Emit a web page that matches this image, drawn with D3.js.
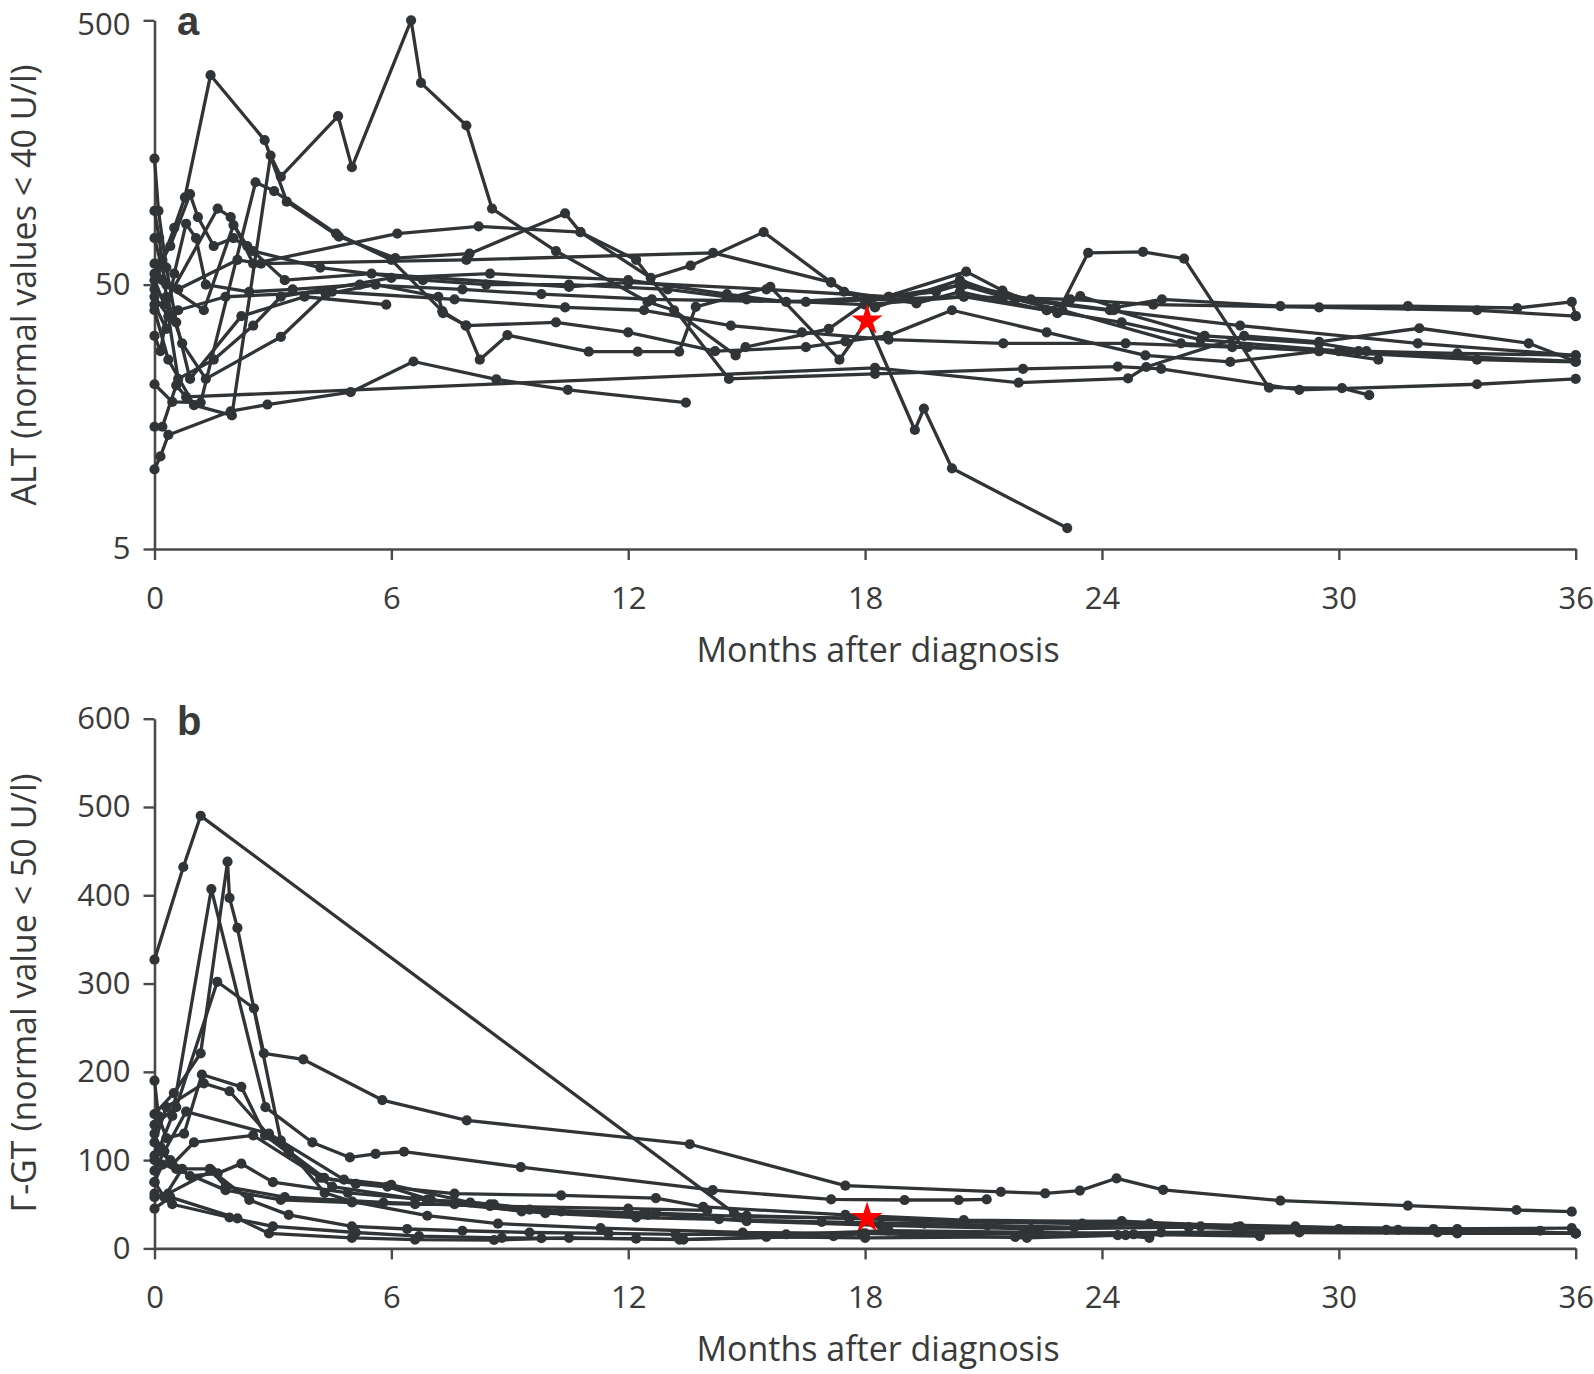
<!DOCTYPE html>
<html><head><meta charset="utf-8">
<script src="https://cdn.jsdelivr.net/npm/d3@7/dist/d3.min.js"></script>
<style>
body{margin:0;background:#fff}
text{font-family:"Open Sans","Noto Sans",sans-serif;fill:#3a3a3a}
</style></head>
<body><svg id="c" width="1594" height="1374"></svg>
<script>
// ---------- DATA ----------
const monthTicks = [0, 6, 12, 18, 24, 30, 36];
const altTicks = [5, 50, 500];
const ggtTicks = [0, 100, 200, 300, 400, 500, 600];
const xTitle = "Months after diagnosis";
const altTitle = "ALT (normal values < 40 U/l)";
const ggtTitle = "Γ-GT (normal value < 50 U/l)";

// Panel a: ALT per patient, [month, U/l]
const alt01 = [[0,40],[0.35,26],[1.0,17.5],[1.96,16],[2.94,154],[3.2,128],[4.65,217],[5.0,139],[6.5,500],[6.75,290],[7.9,200],[8.55,97],[10.17,67],[12.49,43],[13.16,40],[14.72,27],[14.97,29],[17.08,34],[18.0,42.5],[20.56,56],[21.48,47.5],[22.87,39],[23.65,66],[25.04,66.5],[26.08,62.7],[28.23,20.4],[30.08,20.3],[30.77,19.1]];
const alt02 = [[0,48],[0.2,62],[0.5,82],[0.77,107],[1.42,310],[2.79,176],[3.35,103],[4.67,76],[6.1,63],[7.98,65.5],[10.4,93],[10.79,79],[12.57,53],[13.58,59],[15.43,79],[17.14,51],[17.47,47],[19.3,42.5],[20.4,47],[22.6,40],[23.45,45.3],[24.35,41],[25.52,44],[28.52,41.5],[31.75,41.5],[34.52,40.8],[35.9,43],[36,38]];
const alt03 = [[0,21],[0.45,18],[1.17,17.9],[2.56,122],[3.03,113],[4.6,78],[6.0,62],[7.29,39.7],[7.88,35],[8.24,26],[8.94,32.2],[11.0,27.9],[12.24,27.9],[13.29,27.9],[13.71,41.2],[15.6,49],[17.35,26],[18.05,36.6],[19.26,14.1],[19.49,17],[20.2,10.1],[23.12,6]];
const alt04 = [[0,10],[0.15,11.2],[0.35,13.5],[1.93,16.6],[2.86,17.6],[4.97,19.6],[6.56,25.6],[8.66,21.9],[10.47,20],[13.46,17.9]];
const alt05 = [[0,14.5],[0.2,14.5],[0.55,20.8],[0.8,18.8],[18.25,24.2],[21.89,21.3],[24.66,22.1],[25.12,24.4],[27.6,32],[29.5,30.4],[32.04,34.2],[34.81,30],[36,25.6]];
const alt06 = [[0,52],[0.25,42],[1.6,97],[1.93,90],[2.5,60],[6.15,78],[8.21,83],[10.79,79],[12.2,62],[14.55,22],[18.25,23],[22.0,24],[24.4,24.5],[25.5,24],[29.0,20],[33.5,21],[36,22]];
const alt07 = [[0,95],[0.12,75],[0.3,45],[0.7,30],[1.3,22],[3.2,31.7],[4.34,46],[5.6,50],[7.19,45],[7.31,39],[7.9,35],[10.17,36],[12.0,33],[14.2,28],[16.5,29],[17.5,30.5],[18.57,32],[20.2,40],[22.6,33],[25.1,27],[27.25,25.5],[29.5,28],[33.5,26],[36,25.5]];
const alt08 = [[0,60],[0.2,52],[0.6,48],[2.1,62],[2.7,60],[7.9,62],[14.15,66],[17.14,51],[18.25,41],[20.4,52],[21.8,44],[24.2,40],[27.5,35],[32,30],[36,27]];
const alt09 = [[0,150],[0.1,95],[0.3,58],[0.55,36],[0.9,22],[2.2,38],[3.8,45],[5.87,42]];
const alt10 = [[0,75],[0.3,50],[1.25,40],[2.0,84],[2.35,70],[3.3,52],[5.5,55],[10.5,49],[12.0,51],[15.5,48],[18.6,45],[20.5,50],[22.2,44],[24.3,40],[26.6,32],[29.5,30],[30.7,28]];
const alt11 = [[0,55],[0.4,70],[0.9,110],[1.1,90],[1.5,70],[2.0,75],[2.5,67],[4.2,58],[6.8,52],[8.4,50],[10.5,50],[13.0,48],[15.0,44],[18.0,42],[20.5,45],[22.6,40],[24.5,36],[26.5,31],[30,28],[36,25.6]];
const alt12 = [[0,45],[0.35,38],[0.6,22],[1.5,26],[2.5,35],[3.2,45],[6.0,53],[8.5,55],[12.0,52],[14.5,46],[16.0,43],[18.6,45],[19.8,47],[20.4,50],[21.5,45],[23.0,40],[26,30],[27.7,29],[29.5,28],[31,26]];
const alt13 = [[0,42],[0.3,34],[0.6,40],[1.8,45],[4.5,47],[7.6,44],[10.4,41],[12.4,40],[14.6,35],[16.4,33],[18.6,31],[21.5,30],[24.6,30],[27.3,29],[30.5,28],[33,27.5],[36,27]];
const alt14 = [[0,32],[0.15,28],[0.5,55],[0.8,85],[1.05,75],[1.3,50],[2.4,47],[3.5,48],[5.2,50],[7.8,48],[9.8,46],[12.6,44],[16.5,43],[20.5,45],[23.2,44],[25.3,42],[29.5,41],[33.5,40],[36,38]];
const altSeries = [alt01,alt02,alt03,alt04,alt05,alt06,alt07,alt08,alt09,alt10,alt11,alt12,alt13,alt14];
const altStar = [18.05, 36.6];

// Panel b: Γ-GT per patient, [month, U/l]
const ggt01 = [[0,327],[0.73,432],[1.17,490],[14.68,40],[15.0,37],[17.6,34],[20.5,30],[23.5,28],[26.5,25],[30,22],[36,17]];
const ggt02 = [[0,152],[0.49,176],[1.17,221],[1.85,438],[1.9,397],[2.1,363],[3.2,122],[4.31,63],[5.01,53],[6.91,37],[8.7,28],[11.3,23],[14.9,18],[17.9,17],[22,17],[25.5,18],[29,19],[32.5,18],[36,17]];
const ggt03 = [[0,100],[0.45,150],[1.44,407],[2.81,160],[4.0,120],[4.95,103],[5.6,107],[6.32,109.5],[9.28,92],[14.14,66],[17.14,55.5],[19.0,54.8],[20.37,54.8],[21.08,55.5]];
const ggt04 = [[0,140],[0.55,160],[1.59,302],[2.52,272],[2.77,221],[3.77,214],[5.77,168],[7.91,145],[13.56,118],[17.5,71],[21.44,64],[22.56,62.4],[23.44,65.5],[24.37,79.4],[25.55,66.2],[28.52,54.1],[31.75,48.4],[34.5,43.5],[35.9,41.6]];
const ggt05 = [[0,190],[0.1,150],[0.3,125],[0.75,130],[1.2,197],[2.2,183],[2.8,128],[3.4,108],[4.5,70],[6.6,56],[8.5,50],[10.3,42],[12.7,40],[15,36],[18.05,34],[20.5,30],[24.5,31],[27.5,25],[33,22],[36,17]];
const ggt06 = [[0,120],[0.3,160],[1.25,187],[1.9,178],[2.9,128],[3.4,110],[4.3,80],[5.1,73],[7.6,62],[10.3,60],[12.7,57],[13.9,47],[17.5,38],[20.5,32],[24.5,30],[27.4,24],[31.5,21]];
const ggt07 = [[0,88],[0.25,110],[0.8,155],[2.9,130],[4.8,78],[6.0,72],[8.0,52],[9.5,44],[12.4,40],[15.0,31],[18.4,26],[22.2,22],[26.2,24],[27.6,22],[32.4,22],[35.9,23]];
const ggt08 = [[0,75],[0.2,95],[0.55,90],[1.8,66],[3.2,55],[5.0,52],[6.6,50],[7.6,50],[9.9,40],[12.2,35],[14.3,33],[16.9,30],[19.5,28],[21.1,26],[23.3,24],[25.2,28],[28.9,25],[31.2,21],[35.1,20]];
const ggt09 = [[0,58],[0.35,62],[1.45,88],[2.4,55],[3.4,38],[5.0,25],[6.4,22],[7.8,20],[9.5,18],[11.5,17],[13.2,16],[16,16],[18.6,20],[22.4,18],[24.8,16],[28,14]];
const ggt10 = [[0,62],[0.45,50],[1.9,35],[3.0,25],[5.1,18],[6.7,14],[8.8,12],[9.8,11.5],[12.2,11],[13.4,10],[15.5,13],[18.0,12],[21.8,13],[24.4,15],[25.2,12]];
const ggt11 = [[0,45],[0.4,58],[2.1,34],[2.9,17],[5.0,12],[6.6,10],[8.6,9.5],[10.5,12],[13.3,10],[17.2,14],[18,17],[22.1,12],[24.6,15],[29,18],[33,17],[36,17]];
const ggt12 = [[0,105],[0.15,115],[0.45,95],[1.0,120],[2.5,128],[4.2,80],[5.9,70],[7.0,55],[9.3,42],[12.5,38]];
const ggt13 = [[0,75],[0.25,58],[0.7,90],[1.4,90],[1.8,70],[3.3,58],[5.8,52],[8.5,48],[12,45],[14,43]];
const ggt14 = [[0,130],[0.1,110],[0.4,100],[0.9,82],[1.6,85],[2.2,96],[3.0,75],[4.9,63],[6.9,55],[8.6,50]];
const ggtSeries = [ggt01,ggt02,ggt03,ggt04,ggt05,ggt06,ggt07,ggt08,ggt09,ggt10,ggt11,ggt12,ggt13,ggt14];
const ggtStar = [18.05, 34.5];

// ---------- DRAW ----------
const svg = d3.select("#c");
const ink = "#313436";
const axisInk = "#4a4a4a";
const x0 = 154.5, x1 = 1575.7;
const tickFont = 31, titleFont = 34;

function panel(opts){
  const x = d3.scaleLinear().domain([0,36]).range([x0,x1]);
  const y = opts.y;
  const g = svg.append("g");
  const xa = g.append("g").attr("transform",`translate(0,${opts.yBase})`)
    .call(d3.axisBottom(x).tickValues(monthTicks).tickSize(11).tickSizeOuter(0).tickFormat(d3.format("d")));
  xa.select(".domain").attr("stroke",axisInk).attr("stroke-width",2.6);
  xa.selectAll(".tick line").attr("stroke",axisInk).attr("stroke-width",2.4);
  xa.selectAll(".tick text").attr("font-size",tickFont).attr("dy","1.48em").style("font-family",'"Open Sans",sans-serif').attr("fill","#3a3a3a");
  const ya = g.append("g").attr("transform",`translate(${x0},0)`)
    .call(d3.axisLeft(y).tickValues(opts.ticks).tickSize(11).tickSizeOuter(0).tickFormat(d3.format("d")));
  ya.select(".domain").attr("stroke",axisInk).attr("stroke-width",2.6);
  ya.selectAll(".tick line").attr("stroke",axisInk).attr("stroke-width",2.4);
  ya.selectAll(".tick text").attr("font-size",tickFont).attr("x",-24)
    .attr("dy",d=> (y(d) < 30 ? "0.46em" : "0.32em"))
    .style("font-family",'"Open Sans",sans-serif').attr("fill","#3a3a3a");
  g.append("text").attr("x",878).attr("y",opts.yBase+113).attr("text-anchor","middle").attr("font-size",titleFont).text(xTitle);
  g.append("text").attr("transform",`translate(36,${opts.yMid}) rotate(-90)`).attr("text-anchor","middle").attr("font-size",titleFont).text(opts.title);
  g.append("text").attr("x",177).attr("y",opts.labelY).attr("font-size",40).attr("font-weight","bold")
    .style("font-family","'Liberation Sans','DejaVu Sans',sans-serif").attr("fill","#333").text(opts.letter);
  const line = d3.line().x(d=>x(d[0])).y(d=>y(d[1]));
  const lg = g.append("g");
  opts.series.forEach(s=>{
    lg.append("path").datum(s).attr("d",line).attr("fill","none").attr("stroke",ink).attr("stroke-width",3.3).attr("stroke-linejoin","round");
    lg.selectAll(null).data(s).enter().append("circle").attr("cx",d=>x(d[0])).attr("cy",d=>y(d[1])).attr("r",5.1).attr("fill",ink);
  });
  const star = d3.symbol().type(d3.symbolStar).size(300);
  g.append("path").attr("d",star).attr("transform",`translate(${x(opts.star[0])},${y(opts.star[1])})`).attr("fill","#ff0000");
}

panel({
  y: d3.scaleLog().domain([5,500]).range([549,20.3]),
  ticks: altTicks, yBase: 549, yMid: 285, title: altTitle, letter: "a", labelY: 35,
  series: altSeries, star: altStar
});
panel({
  y: d3.scaleLinear().domain([0,600]).range([1248.4,718.7]),
  ticks: ggtTicks, yBase: 1248.4, yMid: 993, title: ggtTitle, letter: "b", labelY: 735,
  series: ggtSeries, star: ggtStar
});
</script>
</body></html>
